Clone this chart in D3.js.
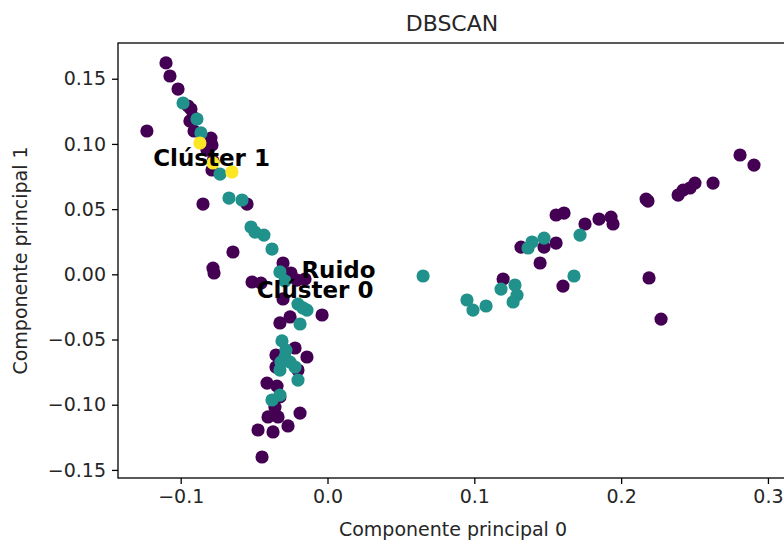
<!DOCTYPE html>
<html>
<head>
<meta charset="utf-8">
<script src="https://cdn.jsdelivr.net/npm/d3@7"></script>
<style>
  body { margin: 0; background: #fff; }
  svg { display: block; font-family: "DejaVu Sans", sans-serif; }
</style>
</head>
<body>
<div id="chart"></div>
<script>
// Data (componente principal 0, componente principal 1)

const ruido = [
  [-0.1100, 0.1621], [-0.1073, 0.1521], [-0.1018, 0.1421], [-0.0950, 0.1291],
  [-0.0930, 0.1268], [-0.0916, 0.1206], [-0.0937, 0.1176], [-0.0909, 0.1099],
  [-0.0794, 0.1045], [-0.0787, 0.0992], [-0.0821, 0.0953], [-0.0780, 0.0869],
  [-0.0787, 0.0800], [-0.1230, 0.1099], [-0.0848, 0.0539], [-0.0548, 0.0539],
  [-0.0644, 0.0171], [-0.0780, 0.0048], [-0.0773, 0.0010], [-0.0303, 0.0087],
  [-0.0249, 0.0010], [-0.0208, -0.0044], [-0.0514, -0.0059], [-0.0453, -0.0067],
  [-0.0303, -0.0189], [-0.0037, -0.0312], [-0.0255, -0.0327], [-0.0324, -0.0373],
  [-0.0221, -0.0565], [-0.0140, -0.0634], [-0.0351, -0.0619], [-0.0351, -0.0711],
  [-0.0201, -0.0734], [-0.0412, -0.0834], [-0.0324, -0.0940], [-0.0358, -0.1018],
  [-0.0405, -0.1094], [-0.0337, -0.1094], [-0.0187, -0.1064], [-0.0473, -0.1194],
  [-0.0371, -0.1209], [-0.0269, -0.1163], [-0.0446, -0.1401], [-0.0344, -0.0857],
  [-0.0153, -0.0036],
  [0.1196, -0.0036], [0.1318, 0.0209], [0.1475, 0.0209], [0.1557, 0.0240],
  [0.1448, 0.0087], [0.1604, -0.0090], [0.1754, 0.0386], [0.1557, 0.0455],
  [0.1611, 0.0470], [0.1849, 0.0424], [0.1931, 0.0439], [0.1945, 0.0386],
  [0.2170, 0.0577], [0.2183, 0.0562], [0.2388, 0.0608], [0.2422, 0.0646],
  [0.2469, 0.0662], [0.2503, 0.0700], [0.2626, 0.0700], [0.2810, 0.0915],
  [0.2905, 0.0838], [0.2190, -0.0028], [0.2272, -0.0343]
];

const cluster0 = [
  [-0.0984, 0.1314], [-0.0889, 0.1191], [-0.0862, 0.1084], [-0.0732, 0.0769],
  [-0.0671, 0.0585], [-0.0582, 0.0570], [-0.0521, 0.0363], [-0.0494, 0.0324],
  [-0.0433, 0.0301], [-0.0378, 0.0194], [-0.0324, 0.0018], [-0.0290, -0.0051],
  [-0.0201, -0.0228], [-0.0167, -0.0258], [-0.0140, -0.0274], [-0.0187, -0.0381],
  [-0.0310, -0.0511], [-0.0290, -0.0634], [-0.0317, -0.0673], [-0.0255, -0.0673],
  [-0.0221, -0.0711], [-0.0324, -0.0734], [-0.0201, -0.0811], [-0.0324, -0.0926],
  [-0.0378, -0.0964], [-0.0283, -0.0581],
  [0.0651, -0.0013], [0.0950, -0.0197], [0.0991, -0.0274], [0.1080, -0.0243],
  [0.1182, -0.0113], [0.1277, -0.0082], [0.1291, -0.0159], [0.1264, -0.0212],
  [0.1366, 0.0202], [0.1393, 0.0248], [0.1475, 0.0278], [0.1679, -0.0013],
  [0.1720, 0.0301]
];

const cluster1 = [
  [-0.0869, 0.1007], [-0.0780, 0.0854], [-0.0651, 0.0785]
];

// Label positions (cluster centres)
const etiquetas = ["Clúster 1", "Ruido", "Clúster 0"];
const centros = [[-0.0790, 0.0890], [0.0075, 0.0033], [-0.0085, -0.0120]];

const xTicks = [-0.1, 0.0, 0.1, 0.2, 0.3];
const xTickLabels = ["\u22120.1", "0.0", "0.1", "0.2", "0.3"];
const yTicks = [-0.15, -0.10, -0.05, 0.00, 0.05, 0.10, 0.15];
const yTickLabels = ["\u22120.15", "\u22120.10", "\u22120.05", "0.00", "0.05", "0.10", "0.15"];

// Dimensions

const width = 784, height = 540;
const mLeft = 118, mRight = 786, mTop = 43, mBottom = 478;

const svg = d3.select("#chart")
  .append("svg")
  .attr("width", width)
  .attr("height", height);

const x = d3.scaleLinear()
  .domain([-0.1427, 0.3123])
  .range([mLeft, mRight]);

const y = d3.scaleLinear()
  .domain([-0.1562, 0.1774])
  .range([mBottom, mTop]);

// Points: noise first, then cluster 0, then cluster 1

const layers = [
  {data: ruido, color: "#440154"},
  {data: cluster0, color: "#21918c"},
  {data: cluster1, color: "#fde725"}
];

layers.forEach(l => {
  svg.append("g")
    .selectAll("circle")
    .data(l.data)
    .join("circle")
    .attr("cx", d => x(d[0]))
    .attr("cy", d => y(d[1]))
    .attr("r", 6.6)
    .attr("fill", l.color);
});

// Annotations

svg.append("g")
  .selectAll("text")
  .data(etiquetas)
  .join("text")
  .attr("x", (d, i) => x(centros[i][0]))
  .attr("y", (d, i) => y(centros[i][1]))
  .attr("text-anchor", "middle")
  .attr("dominant-baseline", "central")
  .attr("font-weight", "bold")
  .attr("font-size", 23)
  .attr("fill", "#000")
  .text(d => d);

// Axes

const xAxis = svg.append("g")
  .attr("transform", `translate(0,${mBottom})`)
  .call(d3.axisBottom(x).tickValues(xTicks).tickFormat((d, i) => xTickLabels[i]).tickSize(6).tickPadding(6).tickSizeOuter(0));

const yAxis = svg.append("g")
  .attr("transform", `translate(${mLeft},0)`)
  .call(d3.axisLeft(y).tickValues(yTicks).tickFormat((d, i) => yTickLabels[i]).tickSize(6).tickPadding(6).tickSizeOuter(0));

[xAxis, yAxis].forEach(a => {
  a.select(".domain").remove();
  a.selectAll(".tick line").attr("stroke", "#000").attr("stroke-width", 1.3);
  a.selectAll(".tick text")
    .attr("fill", "#262626")
    .attr("font-size", 19)
    .attr("font-family", "DejaVu Sans, sans-serif");
});

// Frame
svg.append("rect")
  .attr("x", mLeft)
  .attr("y", mTop)
  .attr("width", mRight - mLeft)
  .attr("height", mBottom - mTop)
  .attr("fill", "none")
  .attr("stroke", "#000")
  .attr("stroke-width", 1.3);

// Titles

svg.append("text")
  .attr("x", (mLeft + mRight) / 2)
  .attr("y", 31)
  .attr("text-anchor", "middle")
  .attr("font-size", 22)
  .attr("fill", "#262626")
  .text("DBSCAN");

svg.append("text")
  .attr("x", (mLeft + mRight) / 2 + 1)
  .attr("y", 536)
  .attr("text-anchor", "middle")
  .attr("font-size", 19)
  .attr("fill", "#262626")
  .text("Componente principal 0");

svg.append("text")
  .attr("transform", `translate(27,${(mTop + mBottom) / 2}) rotate(-90)`)
  .attr("text-anchor", "middle")
  .attr("font-size", 19)
  .attr("fill", "#262626")
  .text("Componente principal 1");
</script>
</body>
</html>
